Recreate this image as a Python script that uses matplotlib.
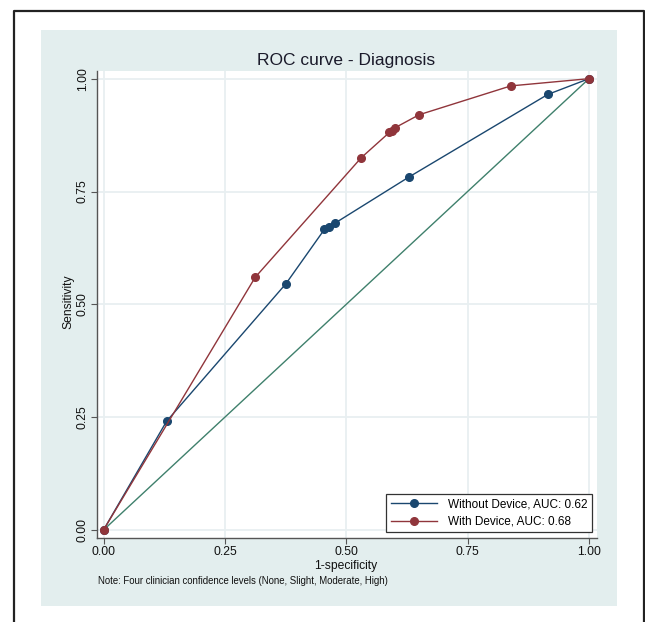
import matplotlib
matplotlib.use("Agg")
import matplotlib.pyplot as plt
from matplotlib.patches import Rectangle
from matplotlib.lines import Line2D

plt.rcParams['font.family'] = ['Liberation Sans', 'DejaVu Sans']

# --- data ---
fpr_without = [0.0, 0.130, 0.376, 0.455, 0.464, 0.477, 0.629, 0.915, 1.0]
tpr_without = [0.0, 0.241, 0.546, 0.666, 0.671, 0.680, 0.782, 0.965, 1.0]
fpr_with = [0.0, 0.3125, 0.531, 0.589, 0.594, 0.600, 0.650, 0.839, 1.0]
tpr_with = [0.0, 0.560, 0.825, 0.881, 0.885, 0.891, 0.920, 0.984, 1.0]
label_without = "Without Device, AUC: 0.62"
label_with = "With Device, AUC: 0.68"
ticks = [0.0, 0.25, 0.5, 0.75, 1.0]
tick_labels = ["0.00", "0.25", "0.50", "0.75", "1.00"]

W, H = 645, 622
NAVY = '#1a476f'
MAROON = '#90353b'
DIAG = '#3f806c'
BG = '#e3eeee'
GRID = '#e8eff1'

fig = plt.figure(figsize=(W / 100, H / 100), dpi=100)
fig.patch.set_facecolor('white')

# outer frame (open at the bottom) and the tinted graph region
fig.add_artist(Line2D([14 / W, 14 / W, 644 / W, 644 / W],
                      [0, 1 - 11 / H, 1 - 11 / H, 0],
                      transform=fig.transFigure, color='#222222', lw=1.6))
fig.add_artist(Rectangle((41 / W, 1 - 606 / H), 576 / W, 576 / H,
                         transform=fig.transFigure, facecolor=BG,
                         edgecolor='none', zorder=0))

ax = fig.add_axes([97 / W, 1 - 538 / H, 500 / W, 467 / H])
ax.set_facecolor('white')
ax.set_zorder(1)

ax.plot([0, 1], [0, 1], color=DIAG, lw=1.0, zorder=2)
ax.plot(fpr_without, tpr_without, color=NAVY, lw=1.0, marker='o',
        markersize=5.5, label=label_without, zorder=3)
ax.plot(fpr_with, tpr_with, color=MAROON, lw=1.0, marker='o',
        markersize=5.5, label=label_with, zorder=4)

ax.set_xlim(-0.0134, 1.0165)
ax.set_ylim(-0.0177, 1.017)
ax.set_xticks(ticks)
ax.set_xticklabels(tick_labels)
ax.set_yticks(ticks)
ax.set_yticklabels(tick_labels, rotation=90, va='center')
ax.grid(True, color=GRID, lw=1.3, zorder=1)
ax.set_axisbelow(True)

for side in ['top', 'right']:
    ax.spines[side].set_visible(False)
for side in ['left', 'bottom']:
    ax.spines[side].set_color('#555555')
    ax.spines[side].set_linewidth(1.0)
ax.tick_params(length=4.5, width=0.8, color='#555555', labelsize=8.8,
               labelcolor='#111111', pad=1.5)

fig.text(346 / W, 1 - 61 / H, "ROC curve - Diagnosis", ha='center',
         va='center', fontsize=12.5, color='#1a1a2a')
fig.text(346 / W, 1 - 566 / H, "1-specificity", ha='center', va='center',
         fontsize=8.7, color='#111111')
fig.text(68 / W, 1 - 302 / H, "Sensitivity", ha='center', va='center',
         rotation=90, fontsize=8.7, color='#111111')
fig.text(98 / W, 1 - 581 / H,
         "Note: Four clinician confidence levels (None, Slight, Moderate, High)",
         ha='left', va='center', fontsize=6.9, color='#111111')

leg = ax.legend(loc='lower right', bbox_to_anchor=(592 / W, 1 - 532 / H),
                bbox_transform=fig.transFigure, borderaxespad=0,
                fontsize=8.5, handlelength=3.9, handletextpad=1.0,
                borderpad=0.35, labelspacing=0.45, fancybox=False,
                framealpha=1, edgecolor='#333333')
leg.get_frame().set_linewidth(0.9)

fig.savefig("out.png", dpi=100)
